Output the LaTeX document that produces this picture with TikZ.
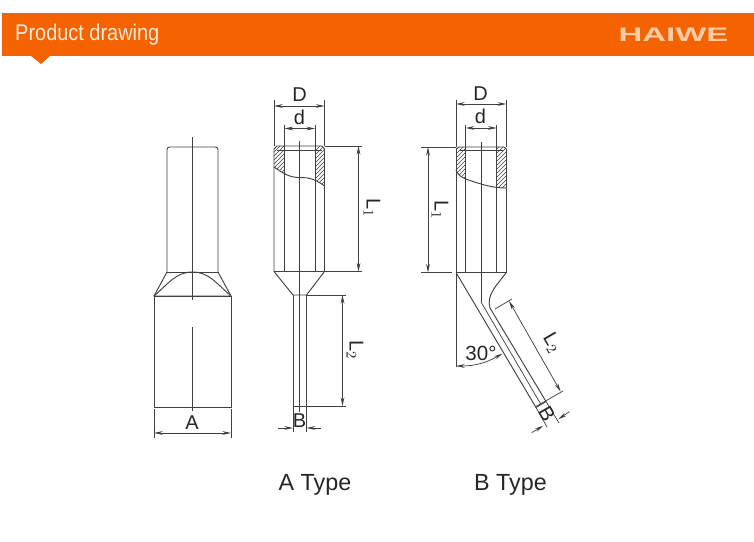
\documentclass[tikz,border=0pt]{standalone}
\usepackage{fontspec}
\setmainfont{Liberation Sans}
\usetikzlibrary{arrows.meta,patterns}
\definecolor{bannerorange}{HTML}{F56200}
\definecolor{logopeach}{HTML}{FCCBA8}
\definecolor{titlecream}{HTML}{FDEBD8}
\definecolor{partline}{HTML}{404040}
\tikzset{
    part/.style = {draw = partline, line width = 0.7pt},
    dimline/.style = {draw = partline, line width = 0.55pt, >={Stealth[length = 6.5pt, width = 2.8pt]}},
    hatched/.style = {pattern = north east lines, pattern color = partline},
    dimlabel/.style = {font = \fontsize{15}{16}\selectfont, text = black!85, inner sep = 0pt},
    typelabel/.style = {font = \fontsize{17.5}{18}\selectfont, text = black!85, inner sep = 0pt}
}
\begin{document}
\begin{tikzpicture}[x = 0.75pt, y = -0.75pt]
    \useasboundingbox (0, 0) rectangle (754, 542);
    % banner
    \fill [bannerorange] (2, 13) rectangle (754, 56);
    \fill [bannerorange] (31, 56) -- (50, 56) -- (41, 64) -- cycle;
    \node (title) [anchor = west, inner sep = 0pt, text = titlecream, xscale = 0.88, font = \fontsize{17}{18}\selectfont] at (15, 35) {Product drawing};
    \node (logo) [inner sep = 0pt, text = logopeach, xscale = 1.68, font = \fontsize{14.7}{15}\selectfont\bfseries] at (673.5, 35) {HAIWE};

    % side view
    \draw [part, rounded corners = 2pt] (167, 272) -- (167, 147) -- (218, 147) -- (218, 272);
    \draw [part] (167, 272) -- (218, 272);
    \draw [part] (167, 272) -- (154, 296) -- (231, 296) -- (218, 272);
    \draw [part] (154, 296) .. controls (168, 284) and (176, 272) .. (192.5, 272) .. controls (209, 272) and (217, 284) .. (231, 296);
    \draw [part] (154, 296) rectangle (231, 407);
    \draw [dimline] (192.5, 137) -- (192.5, 300);
    \draw [dimline] (192.5, 327) -- (192.5, 411);
    \draw [dimline] (154, 409) -- (154, 438);
    \draw [dimline] (231, 409) -- (231, 438);
    \draw [dimline, <->] (154, 433) -- (231, 433);
    \node (labelA) [dimlabel] at (192, 423) {A};

    % A type
    \fill [hatched] (274, 149) -- (277, 146) -- (284.5, 146) -- (284.5, 173) -- (274, 167) -- cycle;
    \fill [hatched] (315, 146) -- (322, 146) -- (324.5, 149) -- (324.5, 186) -- (315, 179) -- cycle;
    \draw [part] (274, 149) -- (277, 146) -- (322, 146) -- (324.5, 149);
    \draw [part] (277, 150) -- (322, 150);
    \draw [part] (274, 149) -- (274, 271.5) -- (293, 295) -- (306.5, 295) -- (324.5, 271.5) -- (324.5, 149);
    \draw [part] (274, 271.5) -- (324.5, 271.5);
    \draw [part] (284.5, 146) -- (284.5, 271.5);
    \draw [part] (315, 146) -- (315, 271.5);
    \draw [part] (274, 167) .. controls (284, 174) and (290, 177) .. (297, 177.5) .. controls (305, 178) and (311, 176) .. (324.5, 186);
    \draw [part] (293, 295) -- (293, 406) -- (306.5, 406) -- (306.5, 295);
    \draw [dimline] (299.5, 141) -- (299.5, 412);
    % A type dimensions
    \draw [dimline] (274, 100) -- (274, 146);
    \draw [dimline] (324.5, 100) -- (324.5, 146);
    \draw [dimline, <->] (274, 106) -- (324.5, 106);
    \draw [dimline] (284.5, 125) -- (284.5, 146);
    \draw [dimline] (315, 125) -- (315, 146);
    \draw [dimline, <->] (284.5, 128.5) -- (315, 128.5);
    \draw [dimline] (324.5, 146) -- (362, 146);
    \draw [dimline] (324.5, 271.5) -- (362, 271.5);
    \draw [dimline, <->] (358.5, 146) -- (358.5, 271.5);
    \draw [dimline] (306.5, 295) -- (346, 295);
    \draw [dimline] (306.5, 406) -- (346, 406);
    \draw [dimline, <->] (342.5, 295) -- (342.5, 406);
    \draw [dimline] (293, 406) -- (293, 432);
    \draw [dimline] (306.5, 406) -- (306.5, 432);
    \draw [dimline, ->] (278, 428) -- (293, 428);
    \draw [dimline, ->] (321, 428) -- (306.5, 428);
    \node (labelDa) [dimlabel] at (299.5, 95) {D};
    \node (labeld) [dimlabel] at (299.5, 117) {d};
    \node (labelLa) [dimlabel, rotate = -90] at (372, 208) {L$_1$};
    \node (labelLb) [dimlabel, rotate = -90] at (355, 350) {L$_2$};
    \node (labelB) [dimlabel] at (299.5, 421) {B};

    % B type
    \fill [hatched] (456, 149) -- (459, 147) -- (465.7, 147) -- (465.7, 179) .. controls (461, 177) and (458, 175) .. (456, 170) -- cycle;
    \fill [hatched] (496.7, 147) -- (504, 147) -- (506.3, 149) -- (506.3, 188) -- (496.7, 187.5) -- cycle;
    \draw [part] (456, 149) -- (459, 147) -- (504, 147) -- (506.3, 149);
    \draw [part] (459, 150.7) -- (504, 150.7);
    \draw [part] (456, 149) -- (456, 272.5);
    \draw [part] (506.3, 149) -- (506.3, 272.5);
    \draw [part] (456, 272.5) -- (506.3, 272.5);
    \draw [part] (465.7, 147) -- (465.7, 272.5);
    \draw [part] (496.7, 147) -- (496.7, 272.5);
    \draw [part] (456, 170) .. controls (458, 175) and (461, 177) .. (465.7, 179) .. controls (478, 183) and (490, 188) .. (506.3, 188);
    \draw [dimline] (481, 142) -- (481, 302);
    % slanted tongue
    \draw [part] (456, 272.5) -- (536, 407.5) -- (546, 401.5);
    \draw [part] (506.3, 272.5) .. controls (497, 285) and (486, 295) .. (490, 308) -- (546, 401.5);
    \draw [dimline] (481, 302) -- (541, 404.5);
    \draw [dimline] (536, 407.5) -- (547, 427);
    \draw [dimline] (546, 401.5) -- (559, 423);
    % B type dimensions
    \draw [dimline] (456, 100) -- (456, 147);
    \draw [dimline] (506.3, 100) -- (506.3, 147);
    \draw [dimline, <->] (456, 104) -- (506.3, 104);
    \draw [dimline] (465.7, 125) -- (465.7, 147);
    \draw [dimline] (496.7, 125) -- (496.7, 147);
    \draw [dimline, <->] (465.7, 128) -- (496.7, 128);
    \draw [dimline] (421, 147) -- (456, 147);
    \draw [dimline] (421, 272.5) -- (452, 272.5);
    \draw [dimline, <->] (428, 147) -- (428, 272.5);
    \draw [dimline] (456, 272.5) -- (456, 367);
    \draw [dimline, <->] (456, 366) to [bend right = 15] (502.5, 353.5);
    \draw [dimline] (495, 309) -- (512, 299);
    \draw [dimline] (535, 407) -- (563, 391);
    \draw [dimline, <->] (509, 301) -- (560.7, 391.7);
    \draw [dimline, ->] (531.7, 432.7) -- (543.3, 425.7);
    \draw [dimline, ->] (569.3, 411.7) -- (558.3, 419.3);
    \node (labelDb) [dimlabel] at (480.5, 94) {D};
    \node (labeldb) [dimlabel] at (480.5, 116) {d};
    \node (labelLc) [dimlabel, rotate = -90] at (440, 210) {L$_1$};
    \node (labelLd) [dimlabel, rotate = -60] at (552, 343) {L$_2$};
    \node (labelBb) [dimlabel, rotate = -60] at (547, 414) {B};
    \node (labelangle) [dimlabel, font = \fontsize{15.4}{16}\selectfont] at (481, 353) {30°};

    \node (typeA) [typelabel] at (315, 485) {A Type};
    \node (typeB) [typelabel] at (510.5, 485) {B Type};
\end{tikzpicture}
\end{document}
